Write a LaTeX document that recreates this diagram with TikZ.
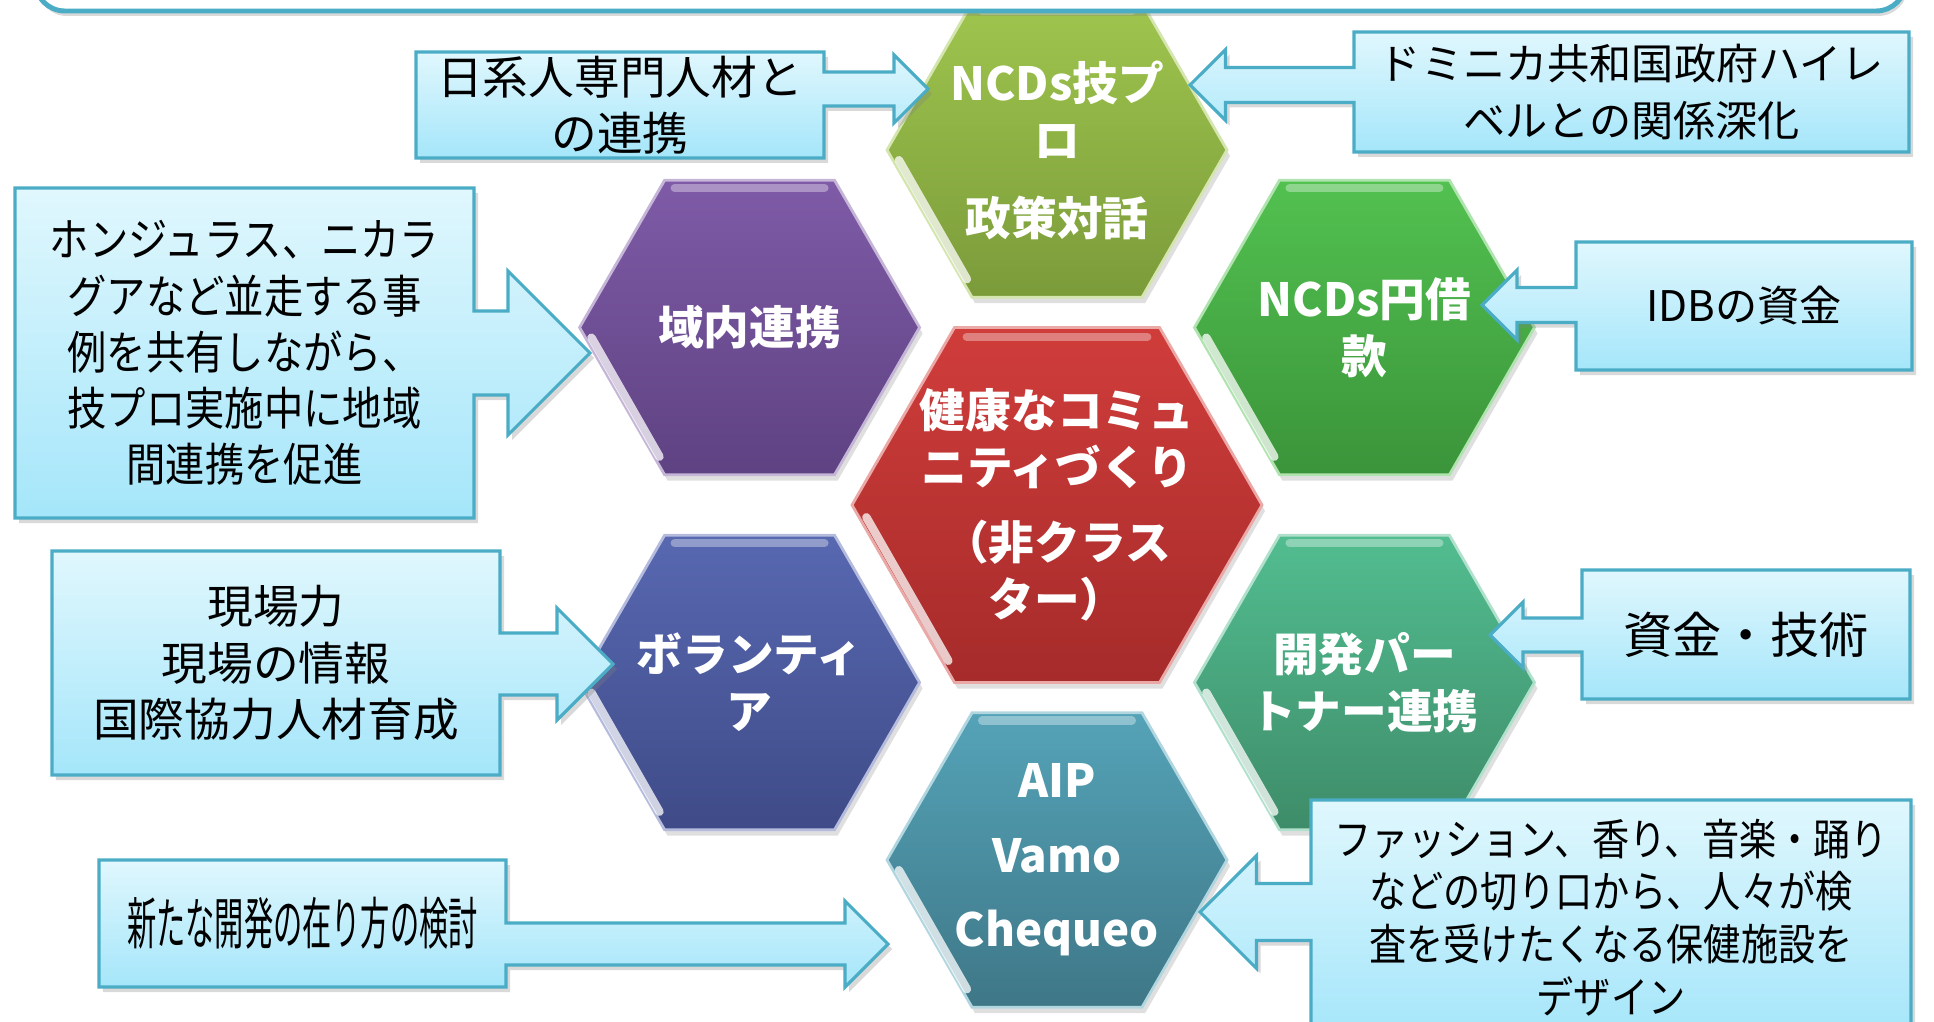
\documentclass[tikz,border=0pt]{standalone}
\usepackage{fontspec}
\setmainfont{Noto Sans CJK JP}
\newfontfamily\narrowjp{Noto Sans CJK JP}[FakeStretch=0.86]
\newfontfamily\condjp{Noto Sans CJK JP}[FakeStretch=0.52]
\usepackage{xcolor}
\usetikzlibrary{shapes.geometric, arrows.meta, positioning, shadows, calc}

\definecolor{boxline}{HTML}{4BACC6}
\definecolor{boxtop}{HTML}{E0F7FD}
\definecolor{boxbot}{HTML}{A5E6FA}
\definecolor{oliveT}{HTML}{9FC54E}
\definecolor{oliveB}{HTML}{7B9B3A}
\definecolor{purpleT}{HTML}{7F5BA7}
\definecolor{purpleB}{HTML}{5E4282}
\definecolor{greenT}{HTML}{52C150}
\definecolor{greenB}{HTML}{3B943A}
\definecolor{redT}{HTML}{D03D3B}
\definecolor{redB}{HTML}{A52B2A}
\definecolor{blueT}{HTML}{5868B1}
\definecolor{blueB}{HTML}{3F4B88}
\definecolor{mintT}{HTML}{52BD90}
\definecolor{mintB}{HTML}{3E8C69}
\definecolor{tealT}{HTML}{55A3B8}
\definecolor{tealB}{HTML}{3E7787}

\pgfdeclarelayer{callouts}
\pgfdeclarelayer{texts}
\pgfsetlayers{main,callouts,texts}

% box with arrow to the right / to the left: box, tip, shaft half, head half
\newcommand{\rightcallout}[4]{%
  \path[callout] let \p1=(#1.north east), \p2=(#1.south east), \p3=(#2) in
    (#1.north west) -- (\p1) -- (\x1,\y3+#3) -- (\x3-#4,\y3+#3) -- (\x3-#4,\y3+#4) -- (\p3)
    -- (\x3-#4,\y3-#4) -- (\x3-#4,\y3-#3) -- (\x1,\y3-#3) -- (\p2) -- (#1.south west) -- cycle;}
\newcommand{\leftcallout}[4]{%
  \path[callout] let \p1=(#1.north west), \p2=(#1.south west), \p3=(#2) in
    (#1.north east) -- (\p1) -- (\x1,\y3+#3) -- (\x3+#4,\y3+#3) -- (\x3+#4,\y3+#4) -- (\p3)
    -- (\x3+#4,\y3-#4) -- (\x3+#4,\y3-#3) -- (\x1,\y3-#3) -- (\p2) -- (#1.south east) -- cycle;}

\begin{document}
\begin{tikzpicture}[
    hexa/.style 2 args={regular polygon, regular polygon sides=6, minimum size=3.4cm, inner sep=0pt, outer sep=0pt,
        top color=#1, bottom color=#2, draw=#1!45!white, line width=0.8pt,
        drop shadow={opacity=0.25, shadow xshift=0.03cm, shadow yshift=-0.06cm}},
    hexlabel/.style={align=center, text=white, font=\bfseries\fontsize{13}{16.2}\selectfont},
    bevel/.style={white, line width=2.4pt, line cap=round, opacity=0.75},
    callbox/.style={rectangle, inner sep=0pt, outer sep=0pt, align=center, font=\fontsize{13}{16}\selectfont},
    callout/.style={draw=boxline, line width=0.9pt, top color=boxtop, bottom color=boxbot,
        drop shadow={opacity=0.3, shadow xshift=0.04cm, shadow yshift=-0.05cm}}]

    \useasboundingbox (0,0) rectangle (19.34,-10.22);

    % Hexagons
    \node[hexa={redT}{redB}, minimum size=4.1cm] (core_hex) at (10.57,-5.05) {};
    \node[hexa={oliveT}{oliveB}] (top_hex) at ($(core_hex)+(90:3.55)$) {};
    \node[hexa={purpleT}{purpleB}] (region_hex) at ($(core_hex)+(150:3.55)$) {};
    \node[hexa={greenT}{greenB}] (loan_hex) at ($(core_hex)+(30:3.55)$) {};
    \node[hexa={blueT}{blueB}] (volunteer_hex) at ($(core_hex)+(210:3.55)$) {};
    \node[hexa={mintT}{mintB}] (partner_hex) at ($(core_hex)+(330:3.55)$) {};
    \node[hexa={tealT}{tealB}] (aip_hex) at ($(core_hex)+(270:3.55)$) {};

    \foreach \h/\r in {core_hex/2.05, top_hex/1.7, region_hex/1.7, loan_hex/1.7, volunteer_hex/1.7, partner_hex/1.7, aip_hex/1.7} {
        \draw[bevel, shift={(\h)}] ({-0.93*\r},{-0.06*\r}) -- ({-0.53*\r},{-0.76*\r});
        \draw[bevel, opacity=0.35, shift={(\h)}] ({-0.44*\r},{0.82*\r}) -- ({0.44*\r},{0.82*\r});
    }

    % Title bar
    \draw[line width=1.4pt, draw=boxline, fill=white, rounded corners=0.3cm,
        drop shadow={opacity=0.3, shadow xshift=0.02cm, shadow yshift=-0.05cm}] (0.35,0.8) rectangle (19.06,-0.11);

    \begin{pgfonlayer}{texts}
    % Hexagon texts
    \node[hexlabel] (core_text) at (core_hex) {健康なコミュ\\ニティづくり\\[5pt]（非クラス\\ター）};
    \node[hexlabel] (top_text) at (top_hex) {NCDs技プ\\ロ\\[6pt]政策対話};
    \node[hexlabel] (region_text) at (region_hex) {域内連携};
    \node[hexlabel] (loan_text) at (loan_hex) {NCDs円借\\款};
    \node[hexlabel] (volunteer_text) at (volunteer_hex) {ボランティ\\ア};
    \node[hexlabel] (partner_text) at (partner_hex) {開発パー\\トナー連携};
    \node[hexlabel] (aip_text) at (aip_hex) {AIP\\[5pt]Vamo\\[5pt]Chequeo};

    % Callout boxes
    \node[callbox, minimum width=4.08cm, minimum height=1.06cm] (nikkei_box) at (6.20,-1.05) {日系人専門人材と\\の連携};
    \node[callbox, minimum width=5.55cm, minimum height=1.20cm, font=\fontsize{12}{16.5}\selectfont] (dr_box) at (16.315,-0.92) {ドミニカ共和国政府ハイレ\\ベルとの関係深化};
    \node[callbox, minimum width=4.59cm, minimum height=3.30cm, font=\narrowjp\fontsize{13}{16}\selectfont] (honduras_box) at (2.445,-3.53) {ホンジュラス、ニカラ\\グアなど並走する事\\例を共有しながら、\\技プロ実施中に地域\\間連携を促進};
    \node[callbox, minimum width=3.36cm, minimum height=1.28cm, font=\fontsize{12}{16}\selectfont] (idb_box) at (17.44,-3.06) {IDBの資金};
    \node[callbox, minimum width=4.48cm, minimum height=2.24cm] (field_box) at (2.76,-6.63) {現場力\\現場の情報\\国際協力人材育成};
    \node[callbox, minimum width=3.28cm, minimum height=1.29cm, font=\fontsize{14}{16}\selectfont] (fund_box) at (17.46,-6.345) {資金・技術};
    \node[callbox, minimum width=4.07cm, minimum height=1.27cm, font=\condjp\fontsize{16}{18}\selectfont] (new_box) at (3.025,-9.235) {新たな開発の在り方の検討};
    \node[callbox, minimum width=6.0cm, minimum height=2.35cm, font=\narrowjp\fontsize{12.3}{15}\selectfont] (fashion_box) at (16.11,-9.175) {ファッション、香り、音楽・踊り\\などの切り口から、人々が検\\査を受けたくなる保健施設を\\デザイン};
    \end{pgfonlayer}

    % Arrow tips at the hexagons
    \coordinate (nikkei_tip) at (9.28,-0.89);
    \coordinate (dr_tip) at (11.90,-0.85);
    \coordinate (honduras_tip) at (5.90,-3.53);
    \coordinate (idb_tip) at (14.82,-3.05);
    \coordinate (field_tip) at (6.13,-6.64);
    \coordinate (fund_tip) at (14.90,-6.35);
    \coordinate (new_tip) at (8.88,-9.44);
    \coordinate (fashion_tip) at (12.00,-9.12);

    \begin{pgfonlayer}{callouts}
    \rightcallout{nikkei_box}{nikkei_tip}{0.17cm}{0.34cm}
    \leftcallout{dr_box}{dr_tip}{0.175cm}{0.355cm}
    \rightcallout{honduras_box}{honduras_tip}{0.42cm}{0.82cm}
    \leftcallout{idb_box}{idb_tip}{0.175cm}{0.35cm}
    \rightcallout{field_box}{field_tip}{0.31cm}{0.56cm}
    \leftcallout{fund_box}{fund_tip}{0.17cm}{0.33cm}
    \rightcallout{new_box}{new_tip}{0.21cm}{0.43cm}
    \leftcallout{fashion_box}{fashion_tip}{0.285cm}{0.565cm}
    \end{pgfonlayer}

\end{tikzpicture}
\end{document}
